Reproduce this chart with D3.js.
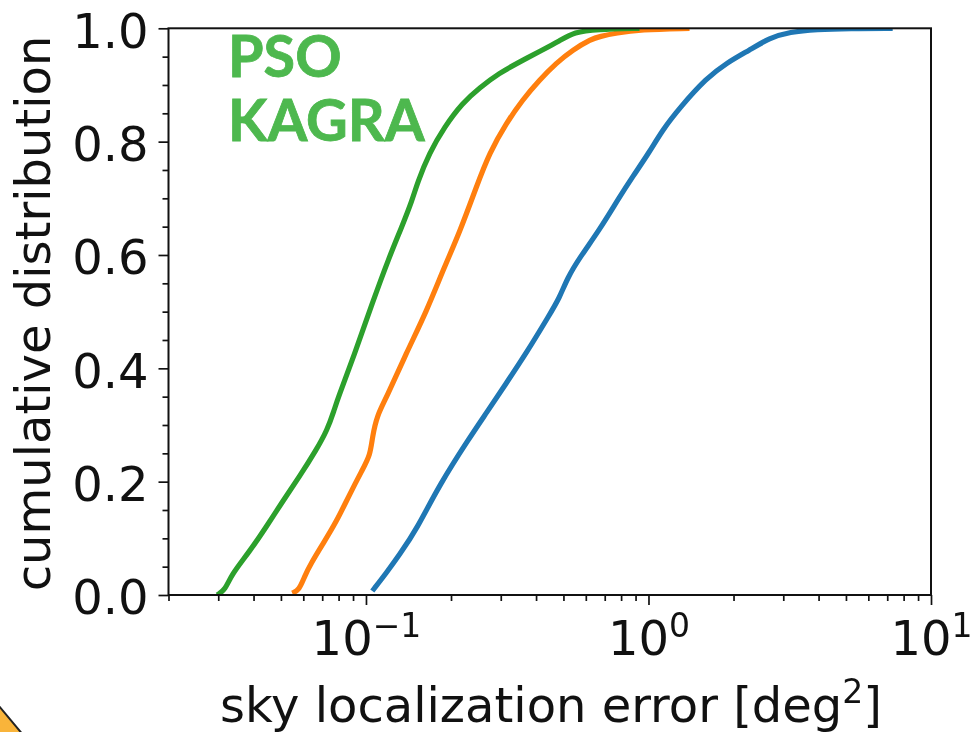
<!DOCTYPE html>
<html>
<head>
<meta charset="utf-8">
<script src="https://cdn.jsdelivr.net/npm/d3@7"></script>
<style>
html,body{margin:0;padding:0;background:#fff;overflow:hidden}
svg{display:block;filter:blur(0.6px)}
text{font-family:"DejaVu Sans",sans-serif;fill:#111}
</style>
</head>
<body>
<svg id="chart" width="976" height="732"></svg>
<script>
const xMajorTicks = [0.1, 1, 10];
const xMinorTicks = [0.02,0.03,0.04,0.05,0.06,0.07,0.08,0.09,0.2,0.3,0.4,0.5,0.6,0.7,0.8,0.9,2,3,4,5,6,7,8,9];
const yMajorTicks = [0,0.2,0.4,0.6,0.8,1.0];
const yMinorTicks = [0.05,0.1,0.15,0.25,0.3,0.35,0.45,0.5,0.55,0.65,0.7,0.75,0.85,0.9,0.95];

const blueX = [0.1053,0.118,0.1312,0.1507,0.1818,0.2322,0.2668,0.3141,0.3696,0.4459,0.4839,0.5164,0.5696,0.6706,0.7895,0.8776,1.008,1.121,1.288,1.605,1.889,2.279,2.683,3.158,3.936,5.152,7.317];
const blueY = [0.0071,0.0388,0.0706,0.1147,0.1941,0.277,0.3212,0.3741,0.427,0.4941,0.5241,0.5594,0.5947,0.6441,0.7023,0.7376,0.7817,0.8205,0.8594,0.9123,0.9388,0.9617,0.9829,0.9935,0.998,0.9995,1.0];

const orangeX = [0.05482,0.05804,0.06046,0.06402,0.07,0.0785,0.0873,0.09703,0.1036,0.1053,0.1096,0.118,0.1389,0.1635,0.1894,0.2141,0.2458,0.2734,0.3141,0.3579,0.4111,0.4721,0.5381,0.6283,0.6706,0.7705,0.9292,1.397];
const orangeY = [0.0035,0.0088,0.0318,0.0565,0.0882,0.1288,0.1765,0.2206,0.247,0.2788,0.3176,0.3476,0.427,0.4994,0.5788,0.6388,0.72,0.78,0.8329,0.8735,0.9088,0.9388,0.9617,0.9811,0.9855,0.9917,0.9975,1.0];

const greenX = [0.02973,0.03175,0.03333,0.03861,0.04435,0.05052,0.05804,0.06668,0.07295,0.07723,0.07914,0.0909,0.1053,0.1209,0.1334,0.1459,0.1519,0.1676,0.1894,0.2194,0.2519,0.2966,0.3491,0.4212,0.4839,0.5468,0.6544,0.9292];
const greenY = [0,0.0088,0.0353,0.0759,0.12,0.1641,0.2082,0.2559,0.2912,0.3265,0.3441,0.4235,0.5153,0.5964,0.6476,0.697,0.727,0.78,0.8258,0.8682,0.8947,0.9211,0.9405,0.9617,0.9776,0.9935,0.998,1.0];

const seriesX = [blueX, orangeX, greenX];
const seriesY = [blueY, orangeY, greenY];
const seriesColors = ["#1f77b4","#ff7f0e","#2ca02c"];

const xLabel = "sky localization error [deg";
const yLabel = "cumulative distribution";
const noteLines = ["PSO","KAGRA"];

const plot = {left:168.5, right:931, top:28.3, bottom:595};
const svg = d3.select("#chart");
const x = d3.scaleLog().domain([0.02,10]).range([plot.left,plot.right]);
const y = d3.scaleLinear().domain([0,1]).range([plot.bottom,plot.top]);

svg.append("clipPath").attr("id","plotClip").append("rect")
  .attr("x",plot.left).attr("y",plot.top)
  .attr("width",plot.right-plot.left).attr("height",plot.bottom-plot.top);

const line = d3.line().x(d=>x(d[0])).y(d=>y(d[1])).curve(d3.curveBasis);
const linesG = svg.append("g").attr("clip-path","url(#plotClip)");
seriesX.forEach((xs,i)=>{
  linesG.append("path")
    .datum(xs.map((v,j)=>[v,seriesY[i][j]]))
    .attr("fill","none").attr("stroke",seriesColors[i])
    .attr("stroke-width",5.2).attr("stroke-linejoin","round")
    .attr("d",line);
});

function styleAxis(g){
  g.select(".domain").remove();
  g.selectAll(".tick line").attr("stroke","#111").attr("stroke-width",1.7);
}
const xAt = "translate(0,"+plot.bottom+")";
const yAt = "translate("+plot.left+",0)";
svg.append("g").attr("transform",xAt)
  .call(d3.axisBottom(x).tickValues(xMinorTicks).tickSize(6).tickFormat(""))
  .call(styleAxis);
const gxMaj = svg.append("g").attr("transform",xAt)
  .call(d3.axisBottom(x).tickValues(xMajorTicks).tickSize(10).tickFormat(""))
  .call(styleAxis);
gxMaj.selectAll(".tick text").each(function(d){
  const t = d3.select(this).attr("dy",null)
    .style("font-size","48px").attr("text-anchor","middle");
  t.attr("y",60).text(null);
  t.append("tspan").text("10");
  t.append("tspan").attr("dy",-18).style("font-size","33px").text(String(Math.round(Math.log10(d))).replace("-","\u2212"));
});
svg.append("g").attr("transform",yAt)
  .call(d3.axisLeft(y).tickValues(yMinorTicks).tickSize(6).tickFormat(""))
  .call(styleAxis);
svg.append("g").attr("transform",yAt)
  .call(d3.axisLeft(y).tickValues(yMajorTicks).tickSize(10).tickPadding(10).tickFormat(d3.format(".1f")))
  .call(styleAxis)
  .call(g=>g.selectAll(".tick text").style("font-size","48px").attr("dy","0.39em"));

svg.append("rect").attr("x",plot.left).attr("y",plot.top)
  .attr("width",plot.right-plot.left).attr("height",plot.bottom-plot.top)
  .attr("fill","none").attr("stroke","#111").attr("stroke-width",2);

const xl = svg.append("text").attr("x",551).attr("y",722).attr("text-anchor","middle").style("font-size","48px");
xl.append("tspan").text(xLabel);
xl.append("tspan").attr("dy",-19).style("font-size","33px").text("2");
xl.append("tspan").attr("dy",19).text("]");

svg.append("text").attr("transform","translate(50,313.5) rotate(-90)")
  .attr("text-anchor","middle").style("font-size","48px").text(yLabel);

svg.selectAll(".note").data(noteLines).join("text").attr("class","note")
  .attr("x",228).attr("y",(d,i)=>76.5+i*64.5)
  .style("font-family","Lato,sans-serif").style("font-weight","700")
  .style("font-size","57.5px").style("fill","#4db84e")
  .style("stroke","#4db84e").style("stroke-width",0.8).text(d=>d);

const badge = [[-6,700],[24,736],[-6,736]];
svg.append("path").attr("d",d3.line()(badge)+"Z")
  .attr("fill","#f9b43a").attr("stroke","#222").attr("stroke-width",2);
</script>
</body>
</html>
